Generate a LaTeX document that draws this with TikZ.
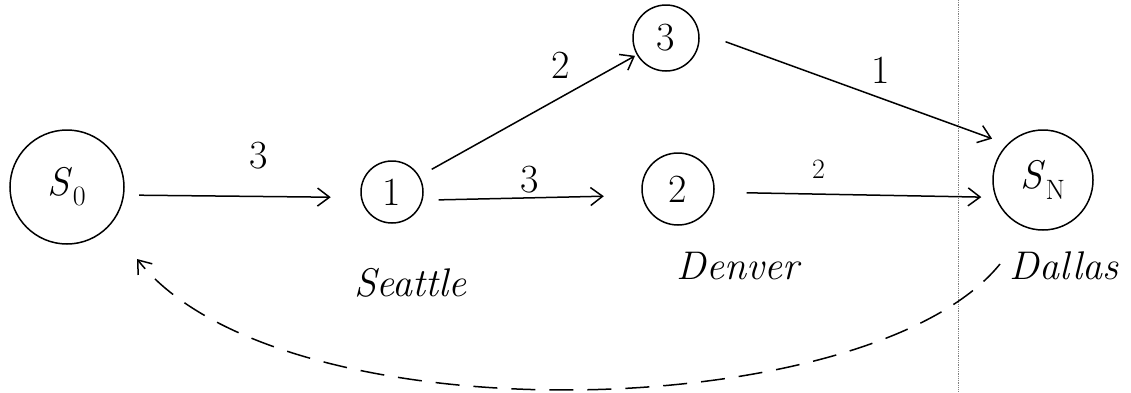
\documentclass[tikz,border=0pt]{standalone}
\usetikzlibrary{arrows.meta}

\begin{document}
\begin{tikzpicture}[>={Straight Barb[length=12pt,width=18pt]}, x=1pt, y=-1pt,
  state/.style={circle, draw, line width=1.5pt, inner sep=0pt, font=\fontsize{40}{44}\selectfont},
  edge/.style={->, line width=1.5pt},
  weight/.style={font=\fontsize{40}{44}\selectfont},
  city/.style={font=\itshape\fontsize{40}{44}\selectfont}]
  \useasboundingbox (0,0) rectangle (1131,392);
  % fold of the page
  \draw[gray, densely dotted, line width=0.8pt] (958,0) -- (958,392);
  % states
  \node[state, minimum size=114pt] (s0) at (67,187) {\textit{S}\textsubscript{0}};
  \node[state, minimum size=62pt]  (n1) at (392,192) {1};
  \node[state, minimum size=66pt]  (n3) at (666,38)  {3};
  \node[state, minimum size=72pt]  (n2) at (678,189) {2};
  \node[state, minimum size=100pt] (sn) at (1043,180) {\textit{S}\textsubscript{N}};
  % cities
  \node[city] (seattle) at (410,283) {Seattle};
  \node[city] (denver)  at (738,266) {Denver};
  \node[city] (dallas)  at (1064,266) {Dallas};
  % weighted edges
  \draw[edge, shorten <=15pt, shorten >=30pt] (s0.-8) -- node[weight, pos=0.57, above=23pt] {3} (n1.190);
  \draw[edge, shorten <=16pt, shorten >=38pt] (n1.-15) -- node[weight, pos=0.49, above=1pt] {3} (n2.190);
  \draw[edge, shorten <=14pt, shorten >=2pt] (n1.30) -- node[weight, pos=0.65, above=15pt] {2} (n3.210);
  \draw[edge, shorten <=28pt, shorten >=16pt] (n3.10) -- node[weight, pos=0.59, above=11pt] {1} (sn.135);
  \draw[edge, shorten <=32pt, shorten >=14pt] (n2.-5) -- node[weight, pos=0.37, above=12pt, font=\fontsize{28}{30}\selectfont] {2} (sn.200);
  % back edge
  \coordinate (sn-out) at ([shift={(-43,84)}]sn.center);
  \coordinate (s0-in)  at ([shift={(70,72)}]s0.center);
  \draw[edge, dash pattern=on 24pt off 14pt]
    (sn-out) .. controls (870,425) and (280,440) .. (s0-in);
\end{tikzpicture}
\end{document}
